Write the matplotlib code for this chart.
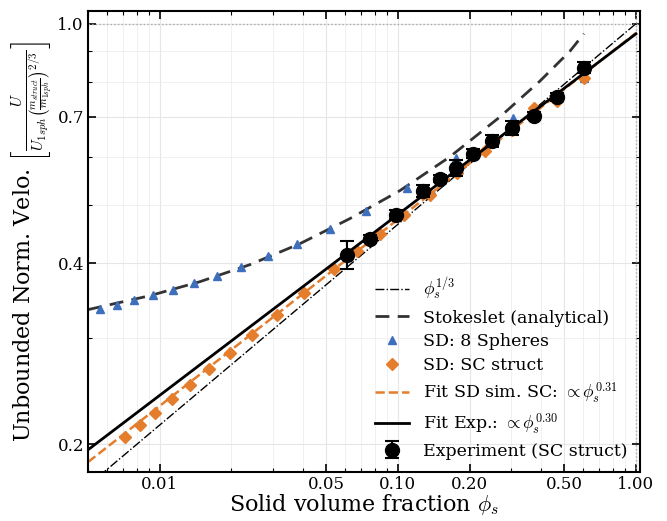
import numpy as np
import matplotlib
matplotlib.use("Agg")
import matplotlib.pyplot as plt
from matplotlib.ticker import FixedLocator, LogLocator, NullFormatter

plt.rcParams['font.family'] = ['DejaVu Serif']
plt.rcParams['mathtext.fontset'] = 'cm'

# phi_s^(1/3) reference line (end points)
ref_x = [0.005, 1.0]
ref_y = [0.171, 1.0]

# Stokeslet analytical curve
stokes_x = [0.005, 0.00908, 0.01473, 0.02389, 0.03875, 0.0629, 0.102, 0.1654,
            0.2683, 0.3953, 0.528, 0.6046]
stokes_y = [0.335, 0.3533, 0.3727, 0.3978, 0.431, 0.4745, 0.528, 0.601,
            0.700, 0.803, 0.900, 0.9625]

# SD: 8 spheres
sph_x = [0.0056, 0.0066, 0.00778, 0.00935, 0.01134, 0.0139, 0.01736, 0.0219,
         0.02843, 0.03764, 0.05179, 0.07337, 0.1091, 0.1753, 0.3042, 0.6046]
sph_y = [0.3363, 0.3414, 0.3479, 0.3546, 0.3615, 0.3713, 0.3814, 0.3947,
         0.4117, 0.431, 0.4564, 0.4891, 0.5341, 0.5989, 0.6979, 0.8136]

# SD: SC struct
sc_x = [0.00713, 0.00824, 0.00953, 0.01123, 0.01337, 0.01606, 0.01968, 0.02436,
        0.031, 0.0403, 0.0538, 0.0671, 0.0839, 0.106, 0.1363, 0.177, 0.2321,
        0.301, 0.3725, 0.4656, 0.6046]
sc_y = [0.2061, 0.2158, 0.2259, 0.2383, 0.2513, 0.2673, 0.2841, 0.3044,
        0.3286, 0.3574, 0.3917, 0.4198, 0.4476, 0.4811, 0.5202, 0.5641, 0.6136,
        0.6652, 0.725, 0.745, 0.814]

# fit lines (end points)
fit_sd_x = [0.005, 1.0]
fit_sd_y = [0.187, 0.965]
fit_exp_x = [0.005, 1.0]
fit_exp_y = [0.196, 0.962]

# experiment
exp_x = [0.0611, 0.0762, 0.0981, 0.1274, 0.150, 0.1753, 0.2065, 0.248,
         0.301, 0.3725, 0.4656, 0.6046]
exp_y = [0.4133, 0.4395, 0.4817, 0.528, 0.5528, 0.5766, 0.6081, 0.6392,
         0.6719, 0.7034, 0.7563, 0.8452]
exp_err = [0.022, 0.006, 0.008, 0.012, 0.008, 0.018, 0.01, 0.015,
           0.018, 0.01, 0.012, 0.018]

xticks = [0.01, 0.05, 0.10, 0.20, 0.50, 1.00]
xtick_labels = ['0.01', '0.05', '0.10', '0.20', '0.50', '1.00']
yticks = [0.2, 0.4, 0.7, 1.0]
ytick_labels = ['0.2', '0.4', '0.7', '1.0']

blue = '#3d6fbd'
orange = '#e47d2c'

fig = plt.figure(figsize=(6.67, 5.21), dpi=100)
ax = fig.add_axes([0.132, 0.094, 0.8275, 0.885])

ax.axhline(1.0, color='#aaaaaa', ls=':', lw=1, zorder=1)
ax.axvline(1.0, color='#aaaaaa', ls=':', lw=1, zorder=1)

ax.plot(ref_x, ref_y, color='black', ls='-.', lw=1, label=r'$\phi_s^{1/3}$')
ax.plot(stokes_x, stokes_y, color='#333333', ls=(0, (5, 3)), lw=2,
        label='Stokeslet (analytical)')
ax.plot(sph_x, sph_y, ls='none', marker='^', ms=6, color=blue,
        label='SD: 8 Spheres')
ax.plot(sc_x, sc_y, ls='none', marker='D', ms=6.5, color=orange,
        label='SD: SC struct')
ax.plot(fit_sd_x, fit_sd_y, color=orange, ls='--', lw=1.8,
        label=r'Fit SD sim. SC: $\propto\phi_s^{0.31}$')
ax.plot(fit_exp_x, fit_exp_y, color='black', lw=2,
        label=r'Fit Exp.: $\propto\phi_s^{0.30}$')
ax.errorbar(exp_x, exp_y, yerr=exp_err, fmt='o', color='black', ms=10,
            capsize=5, elinewidth=1.5, capthick=1.5, zorder=5,
            label='Experiment (SC struct)')

ax.set_xscale('log')
ax.set_yscale('log')
ax.set_xlim(0.005, 1.04)
ax.set_ylim(0.18, 1.05)

ax.xaxis.set_major_locator(FixedLocator(xticks))
ax.set_xticklabels(xtick_labels)
ax.xaxis.set_minor_locator(LogLocator(base=10, subs=np.arange(2, 10)))
ax.xaxis.set_minor_formatter(NullFormatter())
ax.yaxis.set_major_locator(FixedLocator(yticks))
ax.set_yticklabels(ytick_labels)
ax.yaxis.set_minor_locator(FixedLocator([0.3, 0.5, 0.6, 0.8, 0.9]))
ax.yaxis.set_minor_formatter(NullFormatter())

ax.tick_params(which='both', direction='in', top=True, right=True, labelsize=12)
ax.tick_params(which='major', length=6, width=1.2, pad=3)
ax.tick_params(which='minor', length=3, width=0.8)
for sp in ax.spines.values():
    sp.set_linewidth(1.5)

ax.grid(True, which='major', color='#e6e6e6', lw=0.8)
ax.grid(True, which='minor', color='#eeeeee', lw=0.6)
ax.set_axisbelow(True)

ax.set_xlabel(r'Solid volume fraction $\phi_s$', fontsize=16, labelpad=-1)
ax.set_ylabel(r'Unbounded Norm. Velo. $\left[\frac{U}{U_{1sph}\left(\frac{m_{struct}}{m_{1sph}}\right)^{2/3}}\right]$',
              fontsize=16, labelpad=2)

ax.legend(loc='lower right', frameon=False, fontsize=12.5, handlelength=2.0,
          handletextpad=0.8, labelspacing=0.38, borderaxespad=0.3)

fig.savefig('out.png', dpi=100)
